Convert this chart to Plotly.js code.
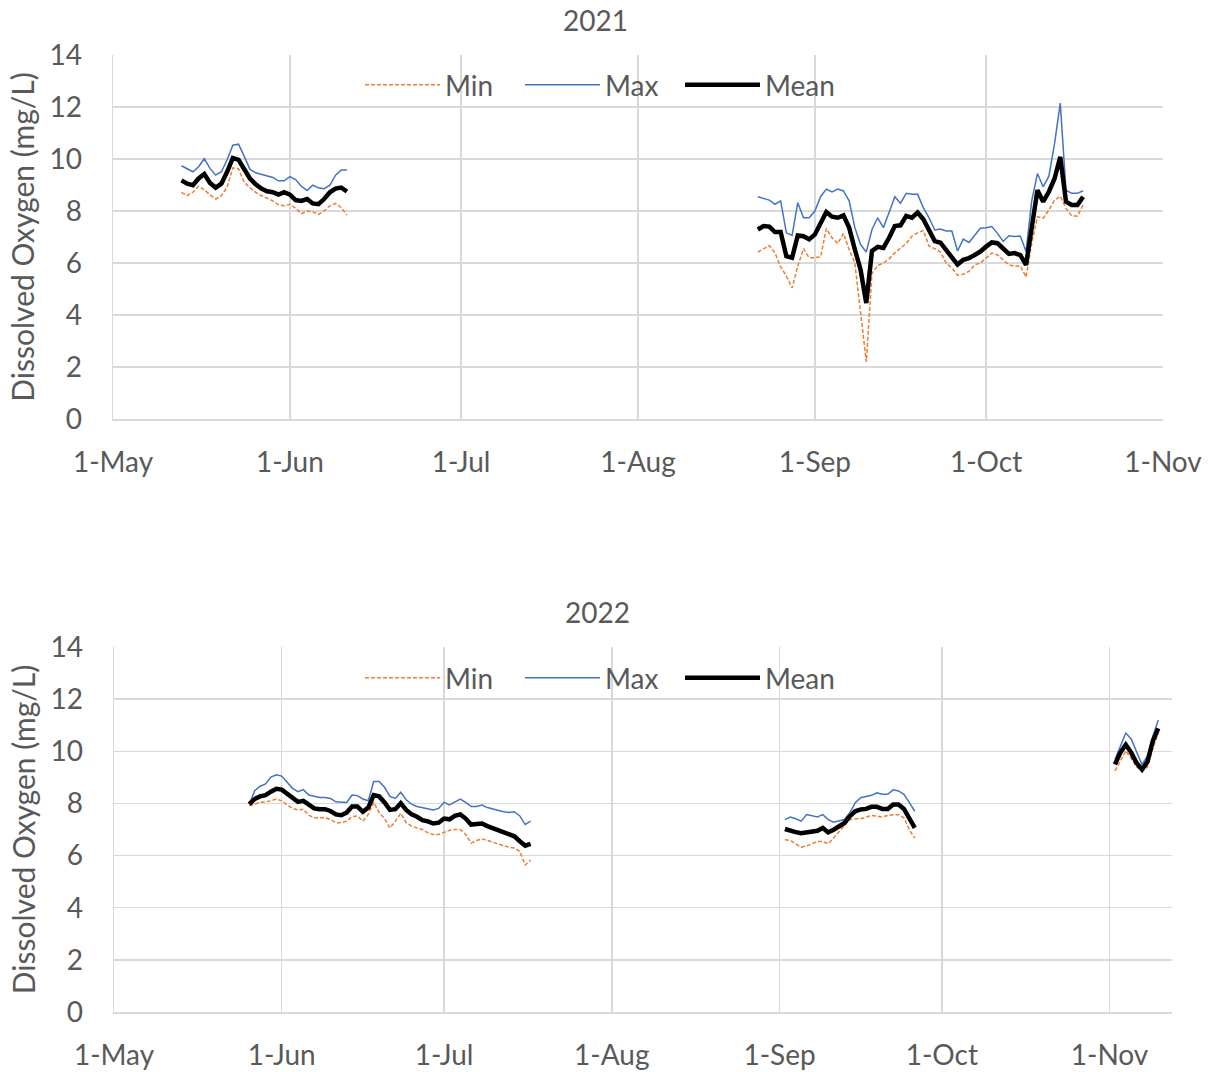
<!DOCTYPE html>
<html>
<head>
<meta charset="utf-8">
<script src="https://cdn.plot.ly/plotly-3.0.1.min.js"></script>
<style>html,body{margin:0;padding:0;background:#fff;}#chart{width:1217px;height:1072px;}</style>
</head>
<body>
<div id="chart"></div>
<script>
// ---------- 2021 ----------
const dates2021a = ["2021-05-13","2021-05-14","2021-05-15","2021-05-16","2021-05-17","2021-05-18","2021-05-19","2021-05-20","2021-05-21","2021-05-22","2021-05-23","2021-05-24","2021-05-25","2021-05-26","2021-05-27","2021-05-28","2021-05-29","2021-05-30","2021-05-31","2021-06-01","2021-06-02","2021-06-03","2021-06-04","2021-06-05","2021-06-06","2021-06-07","2021-06-08","2021-06-09","2021-06-10","2021-06-11"];
const min2021a  = [8.72,8.59,8.72,8.95,8.82,8.62,8.46,8.59,8.92,9.66,9.62,9.10,8.90,8.72,8.59,8.50,8.39,8.24,8.20,8.26,8.11,7.90,8.00,7.97,7.87,8.00,8.20,8.29,8.13,7.84];
const max2021a  = [9.74,9.62,9.51,9.70,10.01,9.64,9.38,9.51,9.97,10.53,10.57,10.10,9.60,9.47,9.41,9.34,9.29,9.16,9.16,9.32,9.21,8.95,8.79,8.99,8.89,8.86,8.99,9.38,9.58,9.58];
const mean2021a = [9.18,9.05,8.99,9.25,9.42,9.08,8.90,9.05,9.51,10.04,9.97,9.58,9.25,9.03,8.86,8.76,8.72,8.63,8.72,8.63,8.42,8.39,8.46,8.29,8.26,8.46,8.72,8.86,8.90,8.75];

const dates2021b = ["2021-08-22","2021-08-23","2021-08-24","2021-08-25","2021-08-26","2021-08-27","2021-08-28","2021-08-29","2021-08-30","2021-08-31","2021-09-01","2021-09-02","2021-09-03","2021-09-04","2021-09-05","2021-09-06","2021-09-07","2021-09-08","2021-09-09","2021-09-10","2021-09-11","2021-09-12","2021-09-13","2021-09-14","2021-09-15","2021-09-16","2021-09-17","2021-09-18","2021-09-19","2021-09-20","2021-09-21","2021-09-22","2021-09-23","2021-09-24","2021-09-25","2021-09-26","2021-09-27","2021-09-28","2021-09-29","2021-09-30","2021-10-01","2021-10-02","2021-10-03","2021-10-04","2021-10-05","2021-10-06","2021-10-07","2021-10-08","2021-10-09","2021-10-10","2021-10-11","2021-10-12","2021-10-13","2021-10-14","2021-10-15","2021-10-16","2021-10-17","2021-10-18"];
const min2021b  = [6.42,6.55,6.67,6.39,5.85,5.50,5.04,5.88,6.55,6.20,6.20,6.24,7.32,6.97,6.75,7.14,6.52,6.00,4.10,2.20,5.60,5.90,6.00,6.16,6.39,6.58,6.75,7.03,7.16,7.25,6.65,6.55,6.42,6.00,5.81,5.53,5.57,5.68,5.93,6.00,6.19,6.38,6.31,6.12,5.93,5.87,5.89,5.46,6.76,7.78,7.72,8.04,8.42,8.57,8.10,7.81,7.81,8.23];
const max2021b  = [8.55,8.48,8.42,8.26,8.39,7.16,7.06,8.32,7.74,7.74,8.00,8.55,8.84,8.73,8.84,8.77,8.39,7.36,6.71,6.42,7.29,7.74,7.36,7.94,8.55,8.30,8.68,8.64,8.64,8.13,7.74,7.27,7.31,7.23,7.23,6.46,6.92,6.79,7.08,7.34,7.36,7.40,7.14,6.83,7.05,7.02,7.04,6.44,8.40,9.44,8.93,9.34,10.60,12.15,8.80,8.68,8.68,8.78];
const mean2021b = [7.29,7.42,7.40,7.19,7.19,6.26,6.20,7.06,7.03,6.91,7.10,7.55,7.96,7.78,7.74,7.83,7.36,6.52,5.75,4.46,6.46,6.62,6.58,6.97,7.42,7.45,7.81,7.74,7.94,7.68,7.23,6.84,6.78,6.52,6.26,5.94,6.12,6.19,6.31,6.44,6.63,6.79,6.76,6.57,6.35,6.38,6.30,5.93,7.30,8.80,8.36,8.74,9.25,10.08,8.36,8.23,8.23,8.55];

// ---------- 2022 ----------
const dates2022a = ["2022-05-26","2022-05-27","2022-05-28","2022-05-29","2022-05-30","2022-05-31","2022-06-01","2022-06-02","2022-06-03","2022-06-04","2022-06-05","2022-06-06","2022-06-07","2022-06-08","2022-06-09","2022-06-10","2022-06-11","2022-06-12","2022-06-13","2022-06-14","2022-06-15","2022-06-16","2022-06-17","2022-06-18","2022-06-19","2022-06-20","2022-06-21","2022-06-22","2022-06-23","2022-06-24","2022-06-25","2022-06-26","2022-06-27","2022-06-28","2022-06-29","2022-06-30","2022-07-01","2022-07-02","2022-07-03","2022-07-04","2022-07-05","2022-07-06","2022-07-07","2022-07-08","2022-07-09","2022-07-10","2022-07-11","2022-07-12","2022-07-13","2022-07-14","2022-07-15","2022-07-16","2022-07-17"];
const min2022a  = [7.91,7.97,8.04,8.06,8.10,8.17,8.10,7.94,7.81,7.75,7.78,7.55,7.45,7.45,7.45,7.39,7.26,7.26,7.32,7.49,7.52,7.32,7.58,8.04,7.65,7.42,7.06,7.32,7.62,7.26,7.13,7.06,7.00,6.87,6.81,6.81,6.90,6.97,7.00,7.00,6.81,6.48,6.58,6.64,6.58,6.51,6.42,6.38,6.32,6.29,6.16,5.64,5.83];
const max2022a  = [7.97,8.49,8.66,8.75,9.01,9.10,9.05,8.82,8.58,8.45,8.53,8.32,8.27,8.23,8.23,8.19,8.06,8.04,8.04,8.32,8.30,8.17,8.10,8.84,8.84,8.62,8.27,8.19,8.43,8.14,7.97,7.88,7.84,7.78,7.75,7.81,8.04,7.94,8.06,8.17,8.04,7.88,7.88,7.94,7.84,7.78,7.75,7.68,7.65,7.68,7.52,7.19,7.32];
const mean2022a = [7.97,8.17,8.27,8.32,8.45,8.56,8.53,8.36,8.19,8.06,8.10,7.94,7.81,7.78,7.78,7.71,7.58,7.55,7.65,7.88,7.88,7.68,7.84,8.32,8.27,8.04,7.75,7.78,8.01,7.75,7.58,7.49,7.36,7.31,7.23,7.26,7.42,7.39,7.52,7.58,7.42,7.19,7.19,7.23,7.13,7.06,6.97,6.90,6.84,6.74,6.55,6.38,6.45];

const dates2022b = ["2022-09-02","2022-09-03","2022-09-04","2022-09-05","2022-09-06","2022-09-07","2022-09-08","2022-09-09","2022-09-10","2022-09-11","2022-09-12","2022-09-13","2022-09-14","2022-09-15","2022-09-16","2022-09-17","2022-09-18","2022-09-19","2022-09-20","2022-09-21","2022-09-22","2022-09-23","2022-09-24","2022-09-25","2022-09-26"];
const min2022b  = [6.61,6.58,6.45,6.32,6.37,6.45,6.54,6.54,6.45,6.67,6.93,7.15,7.38,7.41,7.41,7.48,7.54,7.51,7.48,7.54,7.57,7.57,7.45,6.99,6.67];
const max2022b  = [7.38,7.48,7.41,7.32,7.57,7.51,7.48,7.57,7.38,7.28,7.32,7.38,7.64,8.03,8.22,8.26,8.31,8.41,8.35,8.35,8.52,8.48,8.35,8.03,7.70];
const mean2022b = [7.02,6.95,6.90,6.86,6.89,6.93,6.95,7.06,6.89,6.99,7.12,7.25,7.51,7.70,7.77,7.79,7.87,7.87,7.79,7.79,7.96,7.96,7.79,7.38,7.06];

const dates2022c = ["2022-11-02","2022-11-03","2022-11-04","2022-11-05","2022-11-06","2022-11-07","2022-11-08","2022-11-09","2022-11-10"];
const min2022c  = [9.25,9.65,10.02,9.72,9.40,9.24,9.40,10.10,10.70];
const max2022c  = [9.68,10.19,10.70,10.47,10.00,9.49,9.81,10.58,11.19];
const mean2022c = [9.50,9.95,10.25,9.95,9.55,9.30,9.60,10.40,10.88];

const monthTicks2021 = ["2021-05-01","2021-06-01","2021-07-01","2021-08-01","2021-09-01","2021-10-01","2021-11-01"];
const monthTicks2022 = ["2022-05-01","2022-06-01","2022-07-01","2022-08-01","2022-09-01","2022-10-01","2022-11-01"];
const seriesNames = ["Min","Max","Mean"];
const yTitle = "Dissolved Oxygen (mg/L)";

// join segments with a null gap
function join(...segs){ let out=[]; segs.forEach((s,i)=>{ if(i>0) out.push(null); out=out.concat(s); }); return out; }

const FONT = "Lato, 'Open Sans', sans-serif";
const GREY = "#595959";
const GRID = "#d9d9d9";
const styles = [
  {color:"#ED7D31", width:1.5, dash:"4px,2px"},
  {color:"#4472C4", width:1.5, dash:"solid"},
  {color:"#000000", width:4.5, dash:"solid"}
];

const x2021 = join(dates2021a, dates2021b);
const y2021 = [join(min2021a,min2021b), join(max2021a,max2021b), join(mean2021a,mean2021b)];
const x2022 = join(dates2022a, dates2022b, dates2022c);
const y2022 = [join(min2022a,min2022b,min2022c), join(max2022a,max2022b,max2022c), join(mean2022a,mean2022b,mean2022c)];

const traces = [];
seriesNames.forEach((n,i)=>{
  traces.push({x:x2021, y:y2021[i], name:n, type:"scatter", mode:"lines", xaxis:"x", yaxis:"y", legend:"legend",
    line:styles[i], connectgaps:false, hoverinfo:"skip"});
});
seriesNames.forEach((n,i)=>{
  traces.push({x:x2022, y:y2022[i], name:n, type:"scatter", mode:"lines", xaxis:"x2", yaxis:"y2", legend:"legend2",
    line:styles[i], connectgaps:false, hoverinfo:"skip"});
});

function xAxis(ticks, range, domain, anchor){
  return {type:"date", range:range, domain:domain, anchor:anchor,
    tickmode:"array", tickvals:ticks, tickformat:"%-d-%b",
    showgrid:true, gridcolor:GRID, gridwidth:1.5, zeroline:false,
    showline:true, linecolor:GRID, linewidth:1.5, ticks:"",
    ticklabelstandoff:18, tickfont:{family:FONT, size:28, color:GREY}};
}
function yAxis(domain, anchor){
  return {range:[0,14], domain:domain, anchor:anchor, dtick:2, tick0:0,
    showgrid:true, gridcolor:GRID, gridwidth:1.5, zeroline:false,
    showline:true, linecolor:GRID, linewidth:1.5, ticks:"",
    ticklabelstandoff:24, tickfont:{family:FONT, size:28, color:GREY},
    title:{text:yTitle, standoff:6, font:{family:FONT, size:30, color:GREY}}};
}

const W=1217, H=1072;
const legendBase = {orientation:"h", xanchor:"center", yanchor:"middle",
  font:{family:FONT, size:28, color:GREY}, bgcolor:"rgba(0,0,0,0)",
  itemwidth:75, entrywidth:70, traceorder:"normal"};
const layout = {
  width:W, height:H, margin:{l:0,r:0,t:0,b:0},
  paper_bgcolor:"#fff", plot_bgcolor:"#fff",
  font:{family:FONT, color:GREY, size:28},
  showlegend:true,
  xaxis: xAxis(monthTicks2021, ["2021-05-01","2021-11-01"], [113/W, 1163/W], "y"),
  yaxis: yAxis([1-419/H, 1-55/H], "x"),
  xaxis2: xAxis(monthTicks2022, ["2022-05-01","2022-11-12 13:00"], [114/W, 1172/W], "y2"),
  yaxis2: yAxis([1-1012/H, 1-647/H], "x2"),
  legend: Object.assign({}, legendBase, {x:600/W, y:1-85/H}),
  legend2: Object.assign({}, legendBase, {x:600/W, y:1-678/H}),
  annotations:[
    {text:"2021", xref:"paper", yref:"paper", x:595/W, y:1-20/H, xanchor:"center", yanchor:"middle", showarrow:false,
      font:{family:FONT, size:28, color:GREY}},
    {text:"2022", xref:"paper", yref:"paper", x:597/W, y:1-612/H, xanchor:"center", yanchor:"middle", showarrow:false,
      font:{family:FONT, size:28, color:GREY}}
  ]
};

Plotly.newPlot("chart", traces, layout, {staticPlot:true, displayModeBar:false});
</script>
</body>
</html>
